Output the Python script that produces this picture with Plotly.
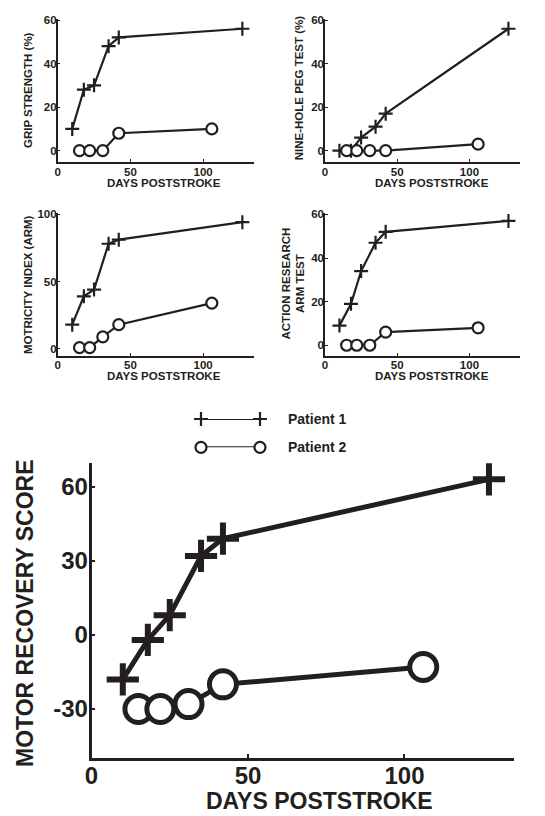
import plotly.graph_objects as go

# ---------------- data ----------------
P1_DAYS = [10, 18, 25, 35, 42, 127]
P2_DAYS = [15, 22, 31, 42, 106]

GRIP_P1 = [10, 28, 30, 48, 52, 56]
GRIP_P2 = [0, 0, 0, 8, 10]

PEG_P1 = [0, 0, 6, 11, 17, 56]
PEG_P2 = [0, 0, 0, 0, 3]

MOTRICITY_P1 = [18, 39, 44, 78, 81, 94]
MOTRICITY_P2 = [1, 1, 9, 18, 34]

ARAT_P1 = [9, 19, 34, 47, 52, 57]
ARAT_P2 = [0, 0, 0, 6, 8]

RECOVERY_P1 = [-18, -2, 8, 32, 39, 63]
RECOVERY_P2 = [-30, -30, -28, -20, -13]

LEGEND_LABELS = ["Patient 1", "Patient 2"]
X_TITLE = "DAYS POSTSTROKE"
PANEL_TITLES = ["GRIP STRENGTH (%)", "NINE-HOLE PEG TEST (%)",
                "MOTRICITY INDEX (ARM)", "ACTION RESEARCH<br>ARM TEST"]
MAIN_Y_TITLE = "MOTOR RECOVERY SCORE"
X_TICKS = [0, 50, 100]
Y_TICKS_SMALL = [0, 20, 40, 60]
Y_TICKS_MOTRICITY = [0, 50, 100]
Y_TICKS_MAIN = [-30, 0, 30, 60]
Y_TICK_LABELS_MAIN = ["-30", "0", "30", "60"]

# ---------------- layout helpers ----------------
W, H = 545, 816
INK = "#231f20"
FONT = "Liberation Sans, Arial, sans-serif"


def dx(a, b):
    return [a / W, b / W]


def dy(top, bottom):
    return [1 - bottom / H, 1 - top / H]


fig = go.Figure()


def add_series(xa, ya, days, vals, kind, big=False):
    if kind == "cross":
        sym = "cross-thin"
        size = 23 if big else 10
        lw = 6 if big else 2.2
        mcolor = INK
    else:
        sym = "circle"
        size = 27 if big else 11
        lw = 5 if big else 2.2
        mcolor = "white"
    fig.add_trace(go.Scatter(
        x=days, y=vals, xaxis=xa, yaxis=ya, mode="lines+markers",
        line=dict(color=INK, width=5 if big else 2.2),
        marker=dict(symbol=sym, size=size, color=mcolor,
                    line=dict(color=INK, width=lw)),
        cliponaxis=False, showlegend=False, hoverinfo="skip"))


panels = [
    ("x", "y", GRIP_P1, GRIP_P2),
    ("x2", "y2", PEG_P1, PEG_P2),
    ("x3", "y3", MOTRICITY_P1, MOTRICITY_P2),
    ("x4", "y4", ARAT_P1, ARAT_P2),
]
for xa, ya, p1, p2 in panels:
    add_series(xa, ya, P1_DAYS, p1, "cross")
    add_series(xa, ya, P2_DAYS, p2, "circle")

add_series("x5", "y5", P1_DAYS, RECOVERY_P1, "cross", big=True)
add_series("x5", "y5", P2_DAYS, RECOVERY_P2, "circle", big=True)

# legend samples (on a dedicated hidden axis: 0..1 spans marker-to-marker)
add_series("x6", "y6", [0, 1], [1, 1], "cross")
add_series("x6", "y6", [0, 1], [0, 0], "circle")


def small_axes(domx, domy, yrange, yticks, anchor_x, anchor_y):
    tf = dict(family=FONT, size=11.5, color=INK, weight="bold")
    xa = dict(domain=domx, range=[0, 135], anchor=anchor_y, showline=True,
              linecolor=INK, linewidth=1.5, ticks="inside", ticklen=3,
              tickwidth=1.2, tickcolor=INK, tickvals=X_TICKS, showgrid=False,
              zeroline=False, tickfont=tf, ticklabelstandoff=-2,
              automargin=False)
    ya = dict(domain=domy, range=yrange, anchor=anchor_x, showline=True,
              linecolor=INK, linewidth=1.5, ticks="inside", ticklen=3,
              tickwidth=1.2, tickcolor=INK, tickvals=yticks, showgrid=False,
              zeroline=False, tickfont=tf, ticklabelstandoff=-3,
              automargin=False)
    return xa, ya


x1, y1 = small_axes(dx(57.7, 254), dy(18.5, 162), [-5.2, 60.7], Y_TICKS_SMALL, "x", "y")
x2, y2 = small_axes(dx(325, 520), dy(18.5, 162), [-5.2, 60.7], Y_TICKS_SMALL, "x2", "y2")
x3, y3 = small_axes(dx(57.7, 254), dy(212.7, 355.7), [-5, 101], Y_TICKS_MOTRICITY, "x3", "y3")
x4, y4 = small_axes(dx(325, 520), dy(213.3, 355.7), [-4.8, 60.5], Y_TICKS_SMALL, "x4", "y4")

big_font = dict(family=FONT, size=24, color=INK, weight="bold")
x5 = dict(domain=dx(91.5, 514), range=[0, 135], anchor="y5", showline=True,
          linecolor=INK, linewidth=2.5, ticks="inside", ticklen=4, tickwidth=2,
          tickcolor=INK, tickvals=X_TICKS, showgrid=False, zeroline=False,
          tickfont=big_font, ticklabelstandoff=-5, automargin=False)
y5 = dict(domain=dy(463.3, 757.7), range=[-49.7, 69.5], anchor="x5",
          showline=True, linecolor=INK, linewidth=2.5, ticks="inside",
          ticklen=4, tickwidth=2, tickcolor=INK, tickvals=Y_TICKS_MAIN,
          ticktext=Y_TICK_LABELS_MAIN, ticklabelstandoff=-4,
          showgrid=False, zeroline=False, tickfont=big_font, automargin=False)

x6 = dict(domain=dx(201, 260), range=[0, 1], anchor="y6", visible=False,
          automargin=False)
y6 = dict(domain=dy(419, 447.3), range=[0, 1], anchor="x6", visible=False,
          automargin=False)

annotations = []


def txt(text, x, y, size, angle=0, xanchor="center"):
    annotations.append(dict(
        text=text, x=x / W, y=1 - y / H, xref="paper", yref="paper",
        showarrow=False, textangle=angle, xanchor=xanchor, yanchor="middle",
        font=dict(family=FONT, size=size, color=INK, weight="bold")))


# small panel titles
txt(PANEL_TITLES[0], 28, 90, 11.5, -90)
txt(PANEL_TITLES[1], 299.3, 88, 11.5, -90)
txt(PANEL_TITLES[2], 28, 285, 11.5, -90)
txt(PANEL_TITLES[3], 293, 283.5, 11.5, -90)
for xc, yc in [(164, 182.7), (432, 182.7), (164, 376), (432, 376)]:
    txt(X_TITLE, xc, yc, 11.5)

# main titles
txt(X_TITLE, 319, 800.5, 23)
txt(MAIN_Y_TITLE, 25, 613, 23, -90)

# legend labels
txt(LEGEND_LABELS[0], 286, 419, 14, xanchor="left")
txt(LEGEND_LABELS[1], 286, 447.3, 14, xanchor="left")

fig.update_layout(
    template="none",
    width=W, height=H,
    margin=dict(l=0, r=0, t=0, b=0, pad=0, autoexpand=False),
    paper_bgcolor="white", plot_bgcolor="white", showlegend=False,
    xaxis=x1, yaxis=y1, xaxis2=x2, yaxis2=y2, xaxis3=x3, yaxis3=y3,
    xaxis4=x4, yaxis4=y4, xaxis5=x5, yaxis5=y5, xaxis6=x6, yaxis6=y6,
    annotations=annotations,
)

fig.write_html(
    "out.html",
    config={"displayModeBar": False},
    post_script=("document.documentElement.style.margin='0';"
                 "document.body.style.margin='0';document.body.style.padding='0';"
                 "document.body.style.overflow='hidden';"
                 "var d=document.querySelector('.plotly-graph-div');"
                 "d.style.position='absolute';d.style.left='0px';d.style.top='0px';"),
)
